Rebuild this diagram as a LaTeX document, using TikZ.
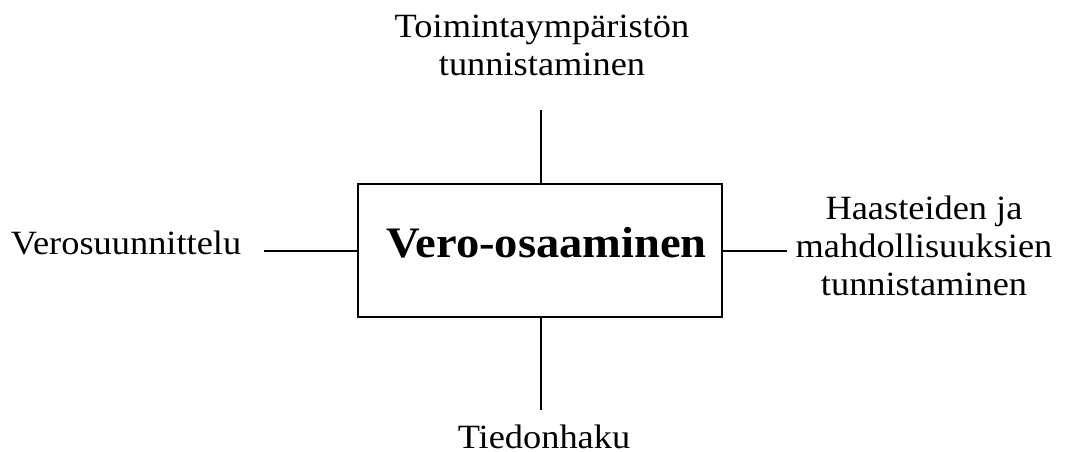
\documentclass[tikz,border=0pt]{standalone}
\usepackage{fontspec}
\setmainfont{Liberation Serif}[FakeStretch=1.07]
\begin{document}
\begin{tikzpicture}[x=1pt,y=-1pt,
  label/.style={font=\fontsize{34}{38}\selectfont, align=center, inner sep=0pt, anchor=base},
  link/.style={line width=1.8pt},
  core/.style={draw, line width=2pt, minimum width=364pt, minimum height=133pt, inner sep=0pt}]
  \useasboundingbox (0,0) rectangle (1065,452);
  % central box and its title
  \node[core] (box) at (540,250.5) {};
  \node[font=\fontsize{43.5}{48}\selectfont\bfseries, anchor=base, inner sep=0pt] (title) at (546.5,257) {Vero-osaaminen};
  % surrounding topics (anchored at the baseline of their last line)
  \node[label] (top) at (542,75) {Toimintaympäristön\\tunnistaminen};
  \node[label] (left) at (126,254) {Verosuunnittelu};
  \node[label] (right) at (924,295) {Haasteiden ja\\mahdollisuuksien\\tunnistaminen};
  \node[label] (bottom) at (544,448) {Tiedonhaku};
  % connector end points
  \coordinate (ct) at (541,110);
  \coordinate (cb) at (541,410);
  \coordinate (cl) at (264,251);
  \coordinate (cr) at (787,251);
  \draw[link] (ct) -- (ct |- box.north);
  \draw[link] (cb) -- (cb |- box.south);
  \draw[link] (cl) -- (cl -| box.west);
  \draw[link] (cr) -- (cr -| box.east);
\end{tikzpicture}
\end{document}
